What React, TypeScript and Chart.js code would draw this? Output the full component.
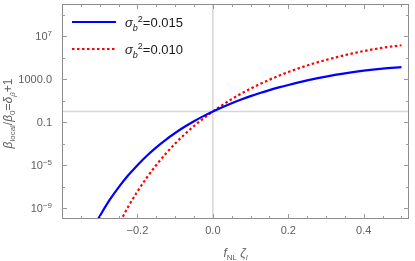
import React, { useEffect, useRef } from "react";
import { Chart, registerables } from "chart.js";

Chart.register(...registerables);

// ---- data ----
const blueX = [-0.31, -0.3, -0.275, -0.25, -0.225, -0.2, -0.175, -0.15, -0.125, -0.1, -0.075, -0.05, -0.025, 0, 0.025, 0.05, 0.075, 0.1, 0.125, 0.15, 0.175, 0.2, 0.25, 0.3, 0.35, 0.4, 0.45, 0.5];
const blueLog10 = [-10.4, -9.75, -8.3, -7.06, -5.96, -4.99, -4.11, -3.33, -2.63, -2.0, -1.42, -0.9, -0.43, 0, 0.4, 0.77, 1.11, 1.43, 1.72, 1.99, 2.24, 2.47, 2.89, 3.25, 3.55, 3.8, 3.99, 4.13];
const redX = [-0.245, -0.225, -0.2, -0.175, -0.15, -0.125, -0.1, -0.075, -0.05, -0.025, 0, 0.025, 0.05, 0.075, 0.1, 0.125, 0.15, 0.175, 0.2, 0.25, 0.3, 0.35, 0.4, 0.45, 0.5];
const redLog10 = [-10.2, -8.89, -7.44, -6.14, -4.98, -3.93, -2.98, -2.13, -1.35, -0.64, 0, 0.6, 1.15, 1.66, 2.13, 2.56, 2.96, 3.33, 3.67, 4.28, 4.8, 5.24, 5.62, 5.93, 6.16];
const seriesLabels = ["0.015", "0.010"];

const xTickValues = [-0.2, 0, 0.2, 0.4];
const xTickLabels = ["\u22120.2", "0.0", "0.2", "0.4"];
const yTickValues = [1e-9, 1e-5, 0.1, 1000, 1e7];
const yTickLabels: [string, string][] = [["10", "\u22129"], ["10", "\u22125"], ["0.1", ""], ["1000.0", ""], ["10", "7"]];

const FONT = '"Liberation Sans", Arial, sans-serif';
const GRAY = "#606060";

type Seg = { t: string; it?: boolean; sub?: boolean; sup?: boolean };

function drawRich(ctx: CanvasRenderingContext2D, segs: Seg[], x: number, y: number, size: number, align: "left" | "center" | "right", color: string) {
  const small = Math.round(size * 0.7);
  const fontFor = (s: Seg) => `${s.it ? "italic " : ""}${s.sub || s.sup ? small : size}px ${FONT}`;
  let w = 0;
  for (const s of segs) {
    ctx.font = fontFor(s);
    w += ctx.measureText(s.t).width;
  }
  let cx = align === "left" ? x : align === "center" ? x - w / 2 : x - w;
  ctx.fillStyle = color;
  ctx.textAlign = "left";
  ctx.textBaseline = "alphabetic";
  for (const s of segs) {
    ctx.font = fontFor(s);
    const dy = s.sub ? size * 0.28 : s.sup ? -size * 0.42 : 0;
    ctx.fillText(s.t, cx, y + dy);
    cx += ctx.measureText(s.t).width;
  }
}

const framePlugin = {
  id: "framePlugin",
  beforeDatasetsDraw(chart: any) {
    const { ctx, chartArea: a, scales } = chart;
    const xs = scales.x, ys = scales.y;
    ctx.save();
    ctx.strokeStyle = "#d6d6d6";
    ctx.lineWidth = 1.5;
    const x0 = xs.getPixelForValue(0);
    const y1 = ys.getPixelForValue(1);
    ctx.beginPath();
    ctx.moveTo(x0, a.top);
    ctx.lineTo(x0, a.bottom);
    ctx.moveTo(a.left, y1);
    ctx.lineTo(a.right, y1);
    ctx.stroke();
    ctx.restore();
  },
  afterDraw(chart: any) {
    const { ctx, chartArea: a, scales } = chart;
    const xs = scales.x, ys = scales.y;
    ctx.save();
    // frame
    ctx.strokeStyle = "#8c8c8c";
    ctx.lineWidth = 1;
    ctx.strokeRect(a.left + 0.5, a.top + 0.5, a.right - a.left - 1, a.bottom - a.top - 1);
    // x ticks (inward, bottom and top)
    ctx.strokeStyle = "#9a9a9a";
    ctx.beginPath();
    for (let i = -8; i <= 10; i++) {
      const v = i * 0.05;
      const px = Math.round(xs.getPixelForValue(v)) + 0.5;
      if (px <= a.left + 1 || px >= a.right - 1) continue;
      const len = i % 4 === 0 ? 5 : 3;
      ctx.moveTo(px, a.bottom);
      ctx.lineTo(px, a.bottom - len);
      ctx.moveTo(px, a.top);
      ctx.lineTo(px, a.top + len);
    }
    // y ticks (inward, left and right)
    for (let e = -9; e <= 9; e += 2) {
      const py = Math.round(ys.getPixelForValue(Math.pow(10, e))) + 0.5;
      const len = (e + 9) % 4 === 0 ? 5 : 3;
      ctx.moveTo(a.left, py);
      ctx.lineTo(a.left + len, py);
      ctx.moveTo(a.right, py);
      ctx.lineTo(a.right - len, py);
    }
    ctx.stroke();

    // x tick labels
    xTickValues.forEach((v, i) => {
      const px = xs.getPixelForValue(v);
      drawRich(ctx, [{ t: xTickLabels[i] }], px, a.bottom + 15, 11, "center", GRAY);
    });
    // y tick labels
    yTickValues.forEach((v, i) => {
      const py = ys.getPixelForValue(v);
      const [base, exp] = yTickLabels[i];
      const segs: Seg[] = [{ t: base }];
      if (exp) segs.push({ t: exp, sup: true });
      drawRich(ctx, segs, a.left - 10, py + 4, 11, "right", GRAY);
    });

    // x title
    drawRich(
      ctx,
      [{ t: "f", it: true }, { t: "NL", sub: true }, { t: " " }, { t: "\u03B6", it: true }, { t: "l", it: true, sub: true }],
      (a.left + a.right) / 2,
      257,
      12,
      "center",
      GRAY
    );
    // y title
    ctx.save();
    ctx.translate(12, (a.top + a.bottom) / 2 + 2);
    ctx.rotate(-Math.PI / 2);
    drawRich(
      ctx,
      [
        { t: "\u03B2", it: true },
        { t: "local", sub: true },
        { t: "/" },
        { t: "\u03B2", it: true },
        { t: "0", sub: true },
        { t: "=" },
        { t: "\u03B4", it: true },
        { t: "\u03B2", it: true, sub: true },
        { t: "+1" },
      ],
      0,
      0,
      12,
      "center",
      GRAY
    );
    ctx.restore();

    // legend
    const items = [
      { color: "#0000ff", dash: [] as number[], label: seriesLabels[0], y: 22 },
      { color: "#ff0000", dash: [2.5, 2.5], label: seriesLabels[1], y: 49 },
    ];
    for (const it of items) {
      ctx.strokeStyle = it.color;
      ctx.lineWidth = 2.2;
      ctx.setLineDash(it.dash);
      ctx.beginPath();
      ctx.moveTo(72, it.y);
      ctx.lineTo(116, it.y);
      ctx.stroke();
      ctx.setLineDash([]);
      drawRich(
        ctx,
        [{ t: "\u03C3", it: true }, { t: "b", it: true, sub: true }, { t: "2", sup: true }, { t: "=" + it.label }],
        125,
        it.y + 5,
        13,
        "left",
        "#1a1a1a"
      );
    }
    ctx.restore();
  },
};

export default function App() {
  const ref = useRef<HTMLCanvasElement | null>(null);
  useEffect(() => {
    if (!ref.current) return;
    const chart = new Chart(ref.current, {
      type: "line",
      data: {
        datasets: [
          {
            label: "blue",
            data: blueX.map((x, i) => ({ x, y: Math.pow(10, blueLog10[i]) })),
            borderColor: "#0000ff",
            borderWidth: 2.2,
            pointRadius: 0,
            cubicInterpolationMode: "monotone",
            fill: false,
          },
          {
            label: "red",
            data: redX.map((x, i) => ({ x, y: Math.pow(10, redLog10[i]) })),
            borderColor: "#ff0000",
            borderWidth: 2.2,
            borderDash: [2.5, 2.5],
            pointRadius: 0,
            cubicInterpolationMode: "monotone",
            fill: false,
          },
        ],
      },
      options: {
        animation: false,
        responsive: false,
        maintainAspectRatio: false,
        layout: { padding: { left: 62, right: 6, top: 4, bottom: 42 } },
        plugins: { legend: { display: false }, tooltip: { enabled: false } },
        scales: {
          x: { type: "linear", min: -0.4, max: 0.52, display: false },
          y: { type: "logarithmic", min: 1e-10, max: 1e10, display: false },
        },
      },
      plugins: [framePlugin],
    } as any);
    return () => chart.destroy();
  }, []);
  return (
    <div style={{ position: "fixed", left: 0, top: 0, width: 415, height: 261, background: "#fff" }}>
      <canvas ref={ref} width={415} height={261} style={{ display: "block", width: 415, height: 261 }} />
    </div>
  );
}
